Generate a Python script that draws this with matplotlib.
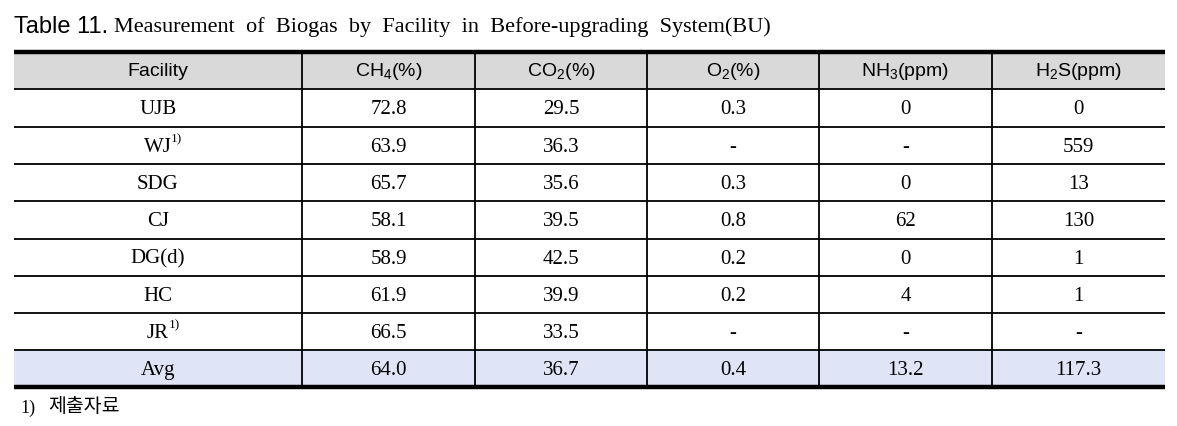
import matplotlib
matplotlib.use("Agg")
import matplotlib.pyplot as plt
from matplotlib.patches import Rectangle

plt.rcParams['mathtext.fontset'] = 'custom'
plt.rcParams['mathtext.rm'] = 'Liberation Sans'
plt.rcParams['mathtext.it'] = 'Liberation Sans'

# table content
title_lead = "Table 11."
title_rest = "Measurement  of  Biogas  by  Facility  in  Before-upgrading  System(BU)"
headers = ["Facility", r"CH$_4$(%)", r"CO$_2$(%)", r"O$_2$(%)", r"NH$_3$(ppm)", r"H$_2$S(ppm)"]
facilities = ["UJB", "WJ", "SDG", "CJ", "DG(d)", "HC", "JR", "Avg"]
footmark = ["", "1)", "", "", "", "", "1)", ""]
ch4 = ["72.8", "63.9", "65.7", "58.1", "58.9", "61.9", "66.5", "64.0"]
co2 = ["29.5", "36.3", "35.6", "39.5", "42.5", "39.9", "33.5", "36.7"]
o2 = ["0.3", "-", "0.3", "0.8", "0.2", "0.2", "-", "0.4"]
nh3 = ["0", "-", "0", "62", "0", "4", "-", "13.2"]
h2s = ["0", "559", "13", "130", "1", "1", "-", "117.3"]
footnote = "제출자료"

# layout in pixels
W, H = 1177, 427
col_x = [14, 302, 475, 647, 819, 992, 1165]
row_y = [53, 90, 127.5, 165, 202, 239.5, 277, 314, 351, 388]
header_bg = "#d9d9d9"
avg_bg = "#dfe4f6"
serif = "Liberation Serif"
sans = "Liberation Sans"

fig = plt.figure(figsize=(W / 100, H / 100), dpi=100)
ax = fig.add_axes([0, 0, 1, 1])
ax.set_xlim(0, W)
ax.set_ylim(H, 0)
ax.axis("off")

# backgrounds
ax.add_patch(Rectangle((col_x[0], row_y[0]), col_x[-1] - col_x[0], row_y[1] - row_y[0],
                       facecolor=header_bg, edgecolor="none"))
ax.add_patch(Rectangle((col_x[0], row_y[-2]), col_x[-1] - col_x[0], row_y[-1] - row_y[-2],
                       facecolor=avg_bg, edgecolor="none"))

# grid lines
for y in row_y[1:-1]:
    ax.plot([col_x[0], col_x[-1]], [y, y], color="black", lw=1.3, solid_capstyle="butt")
for x in col_x[1:-1]:
    ax.plot([x, x], [row_y[0], row_y[-1]], color="black", lw=1.3, solid_capstyle="butt")
ax.plot([col_x[0], col_x[-1]], [row_y[0], row_y[0]], color="black", lw=3.2, solid_capstyle="butt")
ax.plot([col_x[0], col_x[-1]], [row_y[-1], row_y[-1]], color="black", lw=3.2, solid_capstyle="butt")

centers = [(col_x[i] + col_x[i + 1]) / 2 for i in range(len(col_x) - 1)]

# header
hy = (row_y[0] + row_y[1]) / 2
for cx, h in zip(centers, headers):
    ax.text(cx, hy, h, ha="center", va="center", fontsize=14, family=sans)

# body rows
cols = [facilities, ch4, co2, o2, nh3, h2s]
fig.canvas.draw()
rend = fig.canvas.get_renderer()
for r in range(len(facilities)):
    cy = (row_y[r + 1] + row_y[r + 2]) / 2 + 1
    for c, vals in enumerate(cols):
        t = ax.text(centers[c], cy, vals[r], ha="center", va="center", fontsize=15, family=serif)
        if c == 0 and footmark[r]:
            bb = t.get_window_extent(renderer=rend)
            ax.annotate(footmark[r], xy=(bb.x1, bb.y1), xycoords="figure pixels",
                        xytext=(-0.5, 3.5), textcoords="offset points", fontsize=9.5,
                        family=serif, ha="left", va="top")

# title
t = ax.text(col_x[0], 27, title_lead, ha="left", va="center", fontsize=17, family=sans)
bb = t.get_window_extent(renderer=rend)
ax.annotate(title_rest, xy=(bb.x1, bb.y0 + bb.height / 2), xycoords="figure pixels",
            xytext=(4, 0), textcoords="offset points", ha="left", va="center",
            fontsize=16, family=serif)

# footnote
ax.text(20, 408, "1)", ha="left", va="center", fontsize=13, family=serif)
ax.text(48, 407, footnote, ha="left", va="center", fontsize=14, family="Noto Sans CJK KR")

fig.savefig("out.png", dpi=100)
